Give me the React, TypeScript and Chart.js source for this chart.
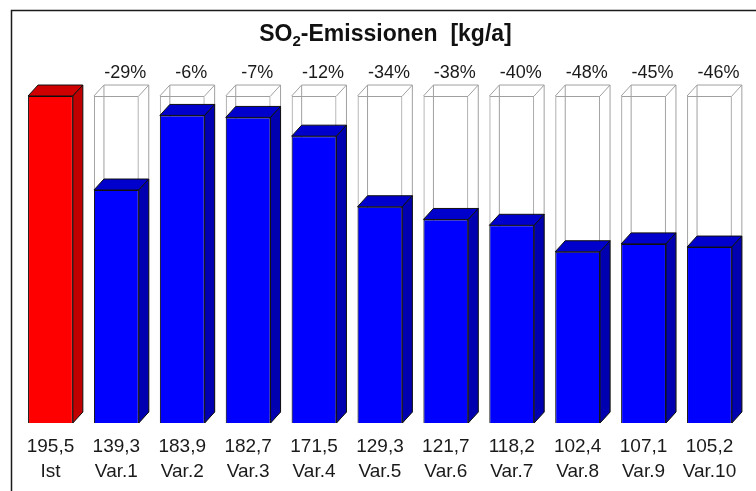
import { useEffect, useRef } from "react";
import { Chart, registerables } from "chart.js";

Chart.register(...registerables);

const categories = ["Ist", "Var.1", "Var.2", "Var.3", "Var.4", "Var.5", "Var.6", "Var.7", "Var.8", "Var.9", "Var.10"];
const valueLabels = ["195,5", "139,3", "183,9", "182,7", "171,5", "129,3", "121,7", "118,2", "102,4", "107,1", "105,2"];
const values = [195.5, 139.3, 183.9, 182.7, 171.5, 129.3, 121.7, 118.2, 102.4, 107.1, 105.2];
const referenceValues = [null, 195.5, 195.5, 195.5, 195.5, 195.5, 195.5, 195.5, 195.5, 195.5, 195.5];
const changeLabels = ["", "-29%", "-6%", "-7%", "-12%", "-34%", "-38%", "-40%", "-48%", "-45%", "-46%"];

const FONT = '"Liberation Sans", Arial, Helvetica, sans-serif';
const DX = 10;
const DY = 11;

const frontColor = (i: number) => (i === 0 ? "#ff0000" : "#0000ff");
const topColor = (i: number) => (i === 0 ? "#d00000" : "#0000cc");
const sideColor = (i: number) => (i === 0 ? "#c00000" : "#0000b0");

const bar3dPlugin = {
  id: "bar3d",
  beforeDraw(chart: any) {
    const ctx = chart.ctx;
    ctx.save();
    ctx.fillStyle = "#ffffff";
    ctx.fillRect(0, 0, chart.width, chart.height);
    // frame
    ctx.strokeStyle = "#1a1a1a";
    ctx.lineWidth = 1.5;
    ctx.beginPath();
    ctx.moveTo(11.5, chart.height);
    ctx.lineTo(11.5, 10.5);
    ctx.lineTo(chart.width, 10.5);
    ctx.stroke();
    // title with subscript
    const big = `bold 23px ${FONT}`;
    const small = `bold 15px ${FONT}`;
    const p1 = "SO";
    const p2 = "2";
    const p3 = "-Emissionen  [kg/a]";
    ctx.font = big;
    const w1 = ctx.measureText(p1).width;
    const w3 = ctx.measureText(p3).width;
    ctx.font = small;
    const w2 = ctx.measureText(p2).width;
    const total = w1 + w2 + w3;
    let x = 385.5 - total / 2;
    const base = 40.5;
    ctx.fillStyle = "#111111";
    ctx.textBaseline = "alphabetic";
    ctx.textAlign = "left";
    ctx.font = big;
    ctx.fillText(p1, x, base);
    x += w1;
    ctx.font = small;
    ctx.fillText(p2, x, base + 5);
    x += w2;
    ctx.font = big;
    ctx.fillText(p3, x, base);
    ctx.restore();
  },
  beforeDatasetsDraw(chart: any) {
    const ctx = chart.ctx;
    const meta = chart.getDatasetMeta(0);
    ctx.save();
    ctx.strokeStyle = "#a0a0a0";
    ctx.lineWidth = 1;
    meta.data.forEach((el: any, i: number) => {
      if (referenceValues[i] == null) return;
      const { x, y, width, base } = el.getProps(["x", "y", "width", "base"], true);
      const l = x - width / 2;
      const r = x + width / 2;
      ctx.beginPath();
      ctx.moveTo(l, y);
      ctx.lineTo(l + DX, y - DY);
      ctx.lineTo(r + DX, y - DY);
      ctx.lineTo(r, y);
      ctx.moveTo(l + DX, y - DY);
      ctx.lineTo(l + DX, base - DY);
      ctx.lineTo(r + DX, base - DY);
      ctx.moveTo(r + DX, y - DY);
      ctx.lineTo(r + DX, base - DY);
      ctx.lineTo(r, base);
      ctx.stroke();
    });
    ctx.restore();
  },
  afterDatasetsDraw(chart: any) {
    const ctx = chart.ctx;
    const meta = chart.getDatasetMeta(1);
    const refMeta = chart.getDatasetMeta(0);
    ctx.save();
    ctx.lineWidth = 1;
    ctx.strokeStyle = "#101010";
    ctx.lineJoin = "round";
    meta.data.forEach((el: any, i: number) => {
      const { x, y, width, base } = el.getProps(["x", "y", "width", "base"], true);
      const l = x - width / 2;
      const r = x + width / 2;
      // top face
      ctx.beginPath();
      ctx.moveTo(l, y);
      ctx.lineTo(l + DX, y - DY);
      ctx.lineTo(r + DX, y - DY);
      ctx.lineTo(r, y);
      ctx.closePath();
      ctx.fillStyle = topColor(i);
      ctx.fill();
      ctx.stroke();
      // side face
      ctx.beginPath();
      ctx.moveTo(r, y);
      ctx.lineTo(r + DX, y - DY);
      ctx.lineTo(r + DX, base - DY);
      ctx.lineTo(r, base);
      ctx.closePath();
      ctx.fillStyle = sideColor(i);
      ctx.fill();
      ctx.stroke();
    });
    // change labels
    ctx.font = `18px ${FONT}`;
    ctx.fillStyle = "#1a1a1a";
    ctx.textAlign = "center";
    ctx.textBaseline = "middle";
    refMeta.data.forEach((el: any, i: number) => {
      if (!changeLabels[i] || referenceValues[i] == null) return;
      const { x, y } = el.getProps(["x", "y"], true);
      ctx.fillText(changeLabels[i], x + 9, y - 22.5);
    });
    ctx.restore();
  },
};

export default function App() {
  const canvasRef = useRef<HTMLCanvasElement | null>(null);

  useEffect(() => {
    document.body.style.margin = "0";
    const canvas = canvasRef.current;
    if (!canvas) return;
    const chart = new Chart(canvas, {
      type: "bar",
      data: {
        labels: categories,
        datasets: [
          {
            label: "Referenz",
            data: referenceValues as any,
            backgroundColor: "rgba(255,255,255,0)",
            borderColor: "#a0a0a0",
            borderWidth: 1,
            grouped: false,
            order: 2,
            barPercentage: 0.68,
            categoryPercentage: 1,
          },
          {
            label: "SO2",
            data: values,
            backgroundColor: values.map((_, i) => frontColor(i)),
            borderColor: "#101010",
            borderWidth: 1,
            grouped: false,
            order: 1,
            barPercentage: 0.68,
            categoryPercentage: 1,
          },
        ],
      },
      options: {
        responsive: false,
        animation: false,
        devicePixelRatio: 1,
        layout: { padding: { left: 17.5, right: 13.6, top: 88.5, bottom: 0 } },
        plugins: {
          legend: { display: false },
          tooltip: { enabled: false },
          title: { display: false },
        },
        scales: {
          x: {
            grid: { display: false, drawTicks: false },
            border: { display: false },
            afterFit: (scale: any) => {
              scale.height = 68;
            },
            ticks: {
              padding: 11.5,
              color: "#1a1a1a",
              font: { family: FONT, size: 19, lineHeight: 1.3 },
              maxRotation: 0,
              autoSkip: false,
              callback: (_v: any, index: number) => [valueLabels[index], categories[index]],
            },
          },
          y: {
            display: false,
            min: 0,
            max: 200,
          },
        },
      },
      plugins: [bar3dPlugin],
    });
    return () => chart.destroy();
  }, []);

  return (
    <div style={{ width: 756, height: 491, position: "relative", background: "#fff" }}>
      <canvas ref={canvasRef} width={756} height={491} style={{ display: "block" }} />
    </div>
  );
}
